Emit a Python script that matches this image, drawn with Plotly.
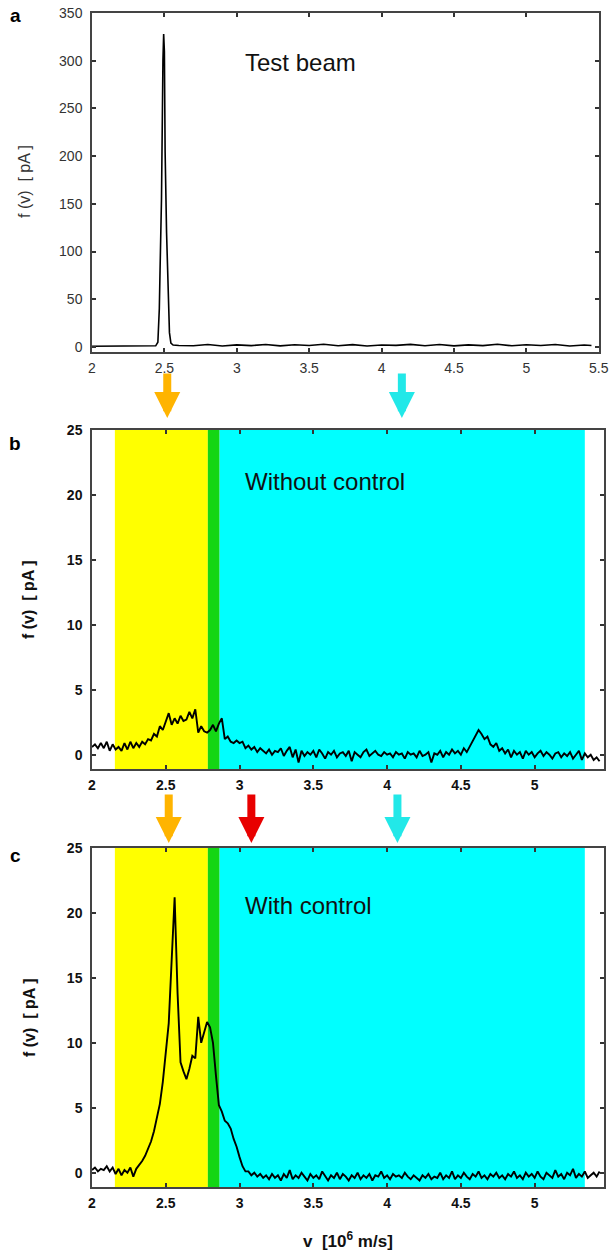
import plotly.graph_objects as go

# ---------------- data ----------------
# Panel a: test beam
v_a = [2.00, 2.10, 2.20, 2.30, 2.40, 2.44, 2.455, 2.465, 2.47, 2.48, 2.49, 2.495, 2.50,
       2.505, 2.515, 2.525, 2.535, 2.545, 2.56, 2.60, 2.70, 2.80, 2.90, 3.00, 3.10,
       3.20, 3.30, 3.40, 3.50, 3.60, 3.70, 3.80, 3.90, 4.00, 4.10, 4.20, 4.30, 4.40,
       4.50, 4.60, 4.70, 4.80, 4.90, 5.00, 5.10, 5.20, 5.30, 5.40, 5.45]
f_a = [0.8, 0.8, 0.8, 0.8, 0.9, 1.2, 5, 40, 80, 155, 300, 328, 310,
       205, 120, 50, 15, 4, 2.0, 1.5, 1.2, 2.5, 1.0, 2.2, 1.4,
       2.6, 1.1, 2.3, 1.5, 2.8, 1.2, 2.4, 1.0, 2.1, 1.6, 2.7, 1.3, 2.5,
       1.1, 2.2, 1.4, 2.9, 1.2, 2.3, 1.5, 2.6, 1.0, 2.0, 1.5]

# Panels b and c: sampled every 0.02 from 2.00 to 5.44
v_bc = [round(2.0 + 0.02 * i, 2) for i in range(173)]

f_b = [0.6, 0.8, 0.5, 0.9, 0.5, 1.0, 0.3, 0.8, 0.4, 0.6,
       0.3, 0.9, 0.4, 1.0, 0.5, 0.9, 0.6, 1.0, 0.8, 1.2,
       1.1, 1.6, 1.4, 2.2, 1.9, 2.5, 3.2, 2.3, 2.8, 2.4,
       3.0, 2.6, 2.7, 3.3, 2.8, 3.5, 1.7, 2.2, 1.8, 1.7,
       1.9, 2.3, 1.8, 2.4, 2.8, 1.2, 1.4, 1.0, 0.9, 1.1,
       0.9, 1.0, 0.5, 0.7, 0.4, 0.6, 0.2, 0.5, 0.3, 0.1,
       0.4, 0.0, 0.3, 0.2, 0.5, -0.1, 0.3, 0.6, -0.2, 0.4,
       -0.6, 0.3, -0.1, 0.2, 0.0, 0.3, -0.2, 0.4, 0.1, -0.3,
       0.2, 0.0, 0.3, -0.2, 0.1, 0.2, -0.1, 0.3, -0.5, 0.2,
       0.0, -0.2, 0.2, 0.4, -0.1, 0.1, 0.3, 0.0, -0.1, 0.2,
       0.0, 0.1, -0.2, 0.2, 0.0, 0.1, -0.3, 0.2, 0.0, 0.1,
       -0.2, 0.3, -0.1, 0.0, 0.2, -0.6, 0.1, 0.0, 0.3, -0.2,
       0.2, 0.0, 0.4, 0.1, 0.3, 0.0, 0.5, 0.2, 0.6, 1.0,
       1.5, 1.9, 1.6, 1.2, 1.4, 0.8, 0.6, 0.9, 0.3, 0.5,
       0.1, 0.4, -0.2, 0.3, 0.0, 0.2, -0.3, 0.3, 0.0, 0.2,
       -0.2, 0.1, 0.3, -0.1, 0.2, 0.0, -0.3, 0.1, 0.2, -0.2,
       0.1, -0.1, 0.2, -0.3, 0.0, 0.3, -0.4, 0.1, -0.2, 0.0,
       -0.4, -0.2, -0.5]

f_c = [0.2, 0.4, 0.1, 0.3, 0.2, 0.5, 0.1, 0.4, -0.1, 0.3,
       -0.2, 0.2, 0.0, 0.4, -0.3, 0.3, 0.6, 0.9, 1.3, 1.8,
       2.4, 3.2, 4.2, 5.3, 7.0, 9.2, 11.5, 16.4, 21.2, 13.8,
       8.5, 7.8, 7.2, 8.0, 9.0, 8.8, 12.0, 10.0, 10.8, 11.6,
       11.2, 10.0, 7.5, 5.2, 4.7, 4.0, 3.8, 3.4, 2.6, 2.0,
       1.2, 0.5, 0.1, 0.1, -0.2, 0.0, -0.3, -0.1, -0.4, -0.2,
       -0.5, -0.1, -0.4, -0.2, -0.6, -0.1, -0.4, 0.2, -0.5, -0.2,
       -0.4, 0.0, -0.3, -0.6, -0.1, -0.4, -0.2, -0.5, 0.1, -0.3,
       -0.6, -0.2, -0.4, 0.0, -0.5, -0.1, -0.3, -0.6, -0.2, -0.4,
       0.0, -0.5, -0.2, -0.4, -0.1, -0.6, -0.2, -0.3, 0.1, -0.4,
       -0.2, -0.5, -0.1, -0.3, -0.2, -0.4, 0.0, -0.3, -0.5, -0.2,
       -0.4, -0.6, -0.2, -0.4, -0.1, -0.5, -0.3, -0.4, 0.0, -0.5,
       -0.2, -0.4, 0.1, -0.5, -0.2, -0.4, 0.0, -0.3, -0.5, -0.1,
       -0.3, 0.1, -0.4, -0.2, -0.5, -0.1, -0.3, 0.0, -0.4, -0.2,
       -0.5, -0.1, -0.3, 0.1, -0.4, -0.2, -0.5, 0.0, -0.3, -0.1,
       -0.4, 0.1, -0.3, -0.5, 0.0, -0.2, -0.4, 0.2, -0.3, -0.1,
       -0.5, 0.0, -0.2, 0.3, -0.4, -0.1, -0.3, 0.1, -0.4, -0.2,
       0.0, -0.3, 0.1]

# shaded velocity bands (v units): yellow, green, cyan
band_edges = [2.155, 2.785, 2.865, 5.34]
band_colors = ["#FFFF00", "#14D614", "#00FFFF"]

# arrow positions (v units)
arrows_row1 = [(2.51, "#FFB400"), (4.10, "#22E8E8")]
arrows_row2 = [(2.52, "#FFB400"), (3.08, "#E80000"), (4.07, "#22E8E8")]

xticks_a = [2, 2.5, 3, 3.5, 4, 4.5, 5, 5.5]
xticklabels_a = ["2", "2.5", "3", "3.5", "4", "4.5", "5", "5.5"]
yticks_a = [0, 50, 100, 150, 200, 250, 300, 350]
xticks_bc = [2, 2.5, 3, 3.5, 4, 4.5, 5]
xticklabels_bc = ["2", "2.5", "3", "3.5", "4", "4.5", "5"]
yticks_bc = [0, 5, 10, 15, 20, 25]

# ---------------- layout geometry ----------------
H, W = 1257, 611
ML, MR = 92, 7
PW = W - ML - MR

def py(pix):
    return 1 - pix / H

def px(pix):
    return (pix - ML) / PW

dom_a = [py(352), py(13)]
dom_b = [py(769), py(430)]
dom_c = [py(1187), py(848)]

FONT = "Liberation Sans, Arial, sans-serif"

fig = go.Figure()
fig.add_trace(go.Scatter(x=v_a, y=f_a, mode="lines", line=dict(color="black", width=1.6),
                         xaxis="x", yaxis="y", showlegend=False))
fig.add_trace(go.Scatter(x=v_bc, y=f_b, mode="lines", line=dict(color="black", width=1.9),
                         xaxis="x2", yaxis="y2", showlegend=False))
fig.add_trace(go.Scatter(x=v_bc, y=f_c, mode="lines", line=dict(color="black", width=1.9),
                         xaxis="x3", yaxis="y3", showlegend=False))

def xax(anchor, dom, rng, tv, tt, bold, color):
    return dict(anchor=anchor, domain=dom, range=rng, tickvals=tv, ticktext=tt,
                showline=True, linecolor="#444", linewidth=1.5, mirror="ticks",
                ticks="inside", ticklen=4, tickwidth=1.5, tickcolor="#333",
                showgrid=False, zeroline=False, ticklabelstandoff=2, automargin=False,
                ticklabeloverflow="allow",
                tickfont=dict(family=FONT, size=14, color=color,
                              weight="bold" if bold else "normal"))

def yax(anchor, dom, rng, tv, bold, color):
    return dict(anchor=anchor, domain=dom, range=rng, tickvals=tv,
                showline=True, linecolor="#444", linewidth=1.5, mirror="ticks",
                ticks="inside", ticklen=4, tickwidth=1.5, tickcolor="#333",
                showgrid=False, zeroline=False, ticklabelstandoff=5, automargin=False,
                tickfont=dict(family=FONT, size=14, color=color,
                              weight="bold" if bold else "normal"))

fig.update_layout(
    width=W, height=H, margin=dict(l=ML, r=MR, t=0, b=0),
    paper_bgcolor="white", plot_bgcolor="white",
    xaxis=xax("y", [0, px(599)], [2, 5.502], xticks_a, xticklabels_a, False, "#333"),
    yaxis=yax("x", dom_a, [-5.3, 350], yticks_a, False, "#333"),
    xaxis2=xax("y2", [0, 1], [2, 5.47], xticks_bc, xticklabels_bc, True, "#111"),
    yaxis2=yax("x2", dom_b, [-1.1, 25], yticks_bc, True, "#111"),
    xaxis3=xax("y3", [0, 1], [2, 5.47], xticks_bc, xticklabels_bc, True, "#111"),
    yaxis3=yax("x3", dom_c, [-1.1, 25], yticks_bc, True, "#111"),
)

# colored bands
for xr, yr in [("x2", "y2 domain"), ("x3", "y3 domain")]:
    for i, col in enumerate(band_colors):
        fig.add_shape(type="rect", xref=xr, yref=yr, x0=band_edges[i], x1=band_edges[i + 1],
                      y0=0, y1=1, fillcolor=col, line=dict(width=0), layer="below")

ann = []
# panel letters
for letter, ypix in [("a", 15), ("b", 443), ("c", 855)]:
    ann.append(dict(text=letter, x=px(15), y=py(ypix), xref="paper", yref="paper",
                    showarrow=False, xanchor="center", yanchor="middle",
                    font=dict(family=FONT, size=19, color="black", weight="bold")))
# panel texts
for txt, ypix in [("Test beam", 62), ("Without control", 482), ("With control", 905)]:
    ann.append(dict(text=txt, x=px(243), y=py(ypix), xref="paper", yref="paper",
                    showarrow=False, xanchor="left", yanchor="middle",
                    font=dict(family=FONT, size=24, color="#111")))
# y titles
for ypix, xpix, bold, col in [(182, 24, False, "#333"), (600, 29, True, "#111"), (1018, 29, True, "#111")]:
    ann.append(dict(text="f (v)  [ pA ]", x=px(xpix), y=py(ypix), xref="paper", yref="paper",
                    showarrow=False, textangle=-90, xanchor="center", yanchor="middle",
                    font=dict(family=FONT, size=16, color=col,
                              weight="bold" if bold else "normal")))
# x title
ann.append(dict(text="v  [10<sup>6</sup> m/s]", x=px(348), y=py(1240), xref="paper", yref="paper",
                showarrow=False, xanchor="center", yanchor="middle",
                font=dict(family=FONT, size=17, color="#111", weight="bold")))
# arrows
for v, col in arrows_row1:
    ann.append(dict(x=v, y=py(418), xref="x2", yref="paper", ax=0, ay=-46,
                    showarrow=True, arrowhead=2, arrowsize=0.65, arrowwidth=8,
                    arrowcolor=col, text=""))
for v, col in arrows_row2:
    ann.append(dict(x=v, y=py(843), xref="x3", yref="paper", ax=0, ay=-50,
                    showarrow=True, arrowhead=2, arrowsize=0.65, arrowwidth=8,
                    arrowcolor=col, text=""))
fig.update_layout(annotations=ann)

fig.write_html("out.html")
